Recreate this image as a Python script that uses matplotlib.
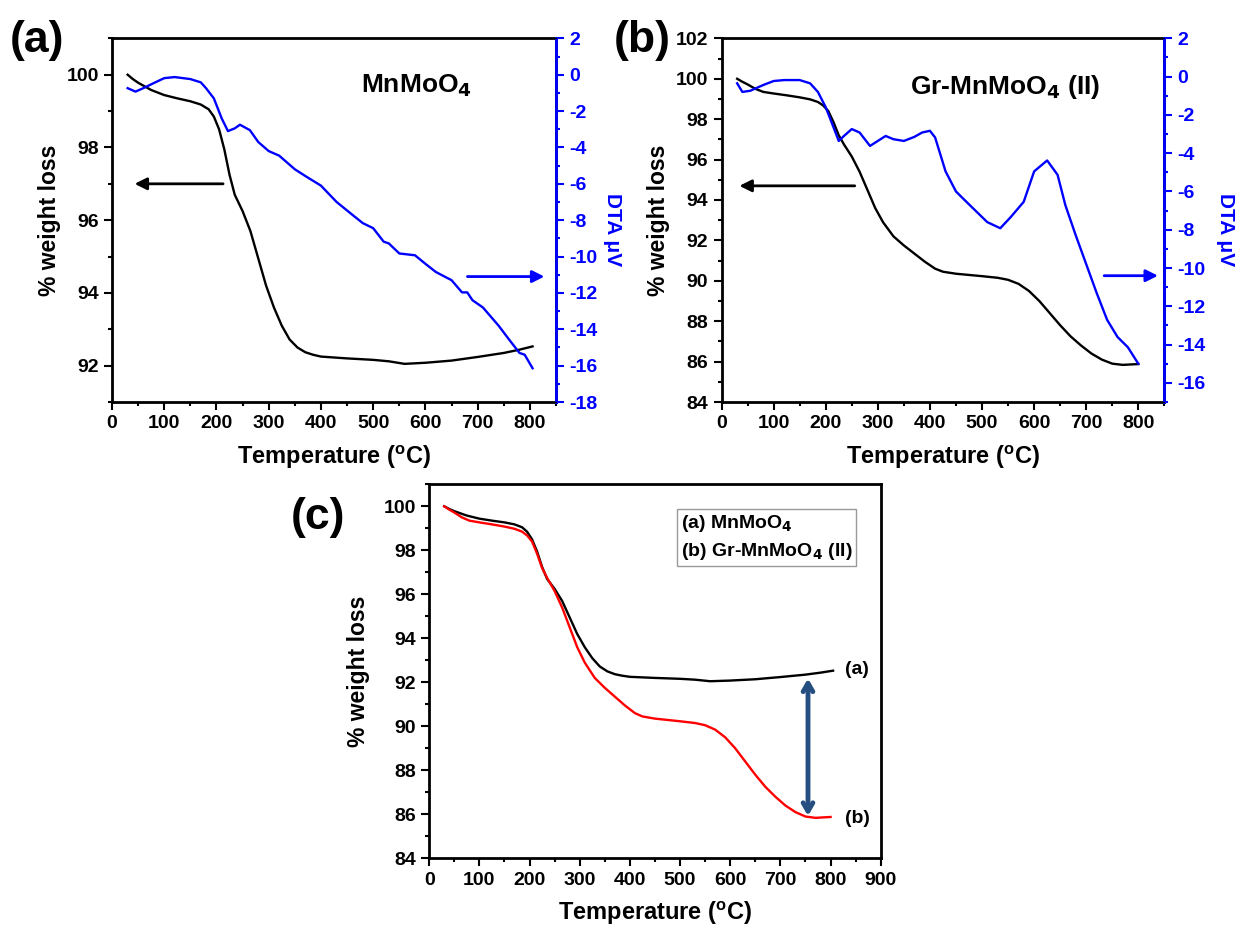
import matplotlib.pyplot as plt
from matplotlib.ticker import MultipleLocator

plt.rcParams['font.family'] = ['Liberation Sans', 'DejaVu Sans']
plt.rcParams['font.weight'] = 'bold'
plt.rcParams['mathtext.default'] = 'bf'
plt.rcParams['axes.unicode_minus'] = False

# TGA of MnMoO4
t_a = [30, 40, 50, 75, 100, 125, 150, 170, 185, 195, 205, 215, 225, 235, 250,
       265, 280, 295, 310, 325, 340, 355, 370, 385, 400, 450, 500, 530, 560,
       600, 650, 700, 750, 780, 805]
w_a = [100.0, 99.88, 99.78, 99.58, 99.44, 99.35, 99.27, 99.18, 99.05, 98.85,
       98.5, 97.95, 97.25, 96.7, 96.25, 95.7, 94.95, 94.2, 93.6, 93.1, 92.72,
       92.5, 92.37, 92.3, 92.25, 92.2, 92.16, 92.12, 92.05, 92.08, 92.14, 92.24,
       92.35, 92.44, 92.53]

# DTA of MnMoO4
td_a = [30, 45, 60, 80, 100, 120, 150, 170, 180, 195, 210, 222, 235, 245, 264,
        280, 300, 320, 350, 370, 400, 430, 460, 480, 500, 520, 530, 550, 580,
        600, 620, 650, 670, 680, 690, 710, 740, 760, 780, 790, 805]
d_a = [-0.74, -0.93, -0.74, -0.46, -0.19, -0.13, -0.24, -0.42, -0.74, -1.3,
       -2.4, -3.1, -2.95, -2.75, -3.05, -3.7, -4.2, -4.45, -5.2, -5.57, -6.1,
       -7.0, -7.7, -8.16, -8.44, -9.18, -9.28, -9.83, -9.93, -10.4, -10.85,
       -11.3, -11.97, -11.97, -12.4, -12.8, -13.8, -14.56, -15.3, -15.4, -16.14]

# TGA of Gr-MnMoO4 (II)
t_b = [30, 40, 50, 65, 80, 100, 125, 150, 170, 185, 195, 205, 215, 225, 235,
       250, 265, 280, 295, 310, 330, 350, 370, 390, 410, 425, 450, 500, 530, 550,
       570, 590, 610, 630, 650, 670, 690, 710, 730, 750, 770, 800]
w_b = [100.0, 99.85, 99.72, 99.5, 99.35, 99.27, 99.18, 99.08, 98.98, 98.85,
       98.68, 98.4, 97.85, 97.2, 96.75, 96.15, 95.4, 94.5, 93.6, 92.9, 92.2,
       91.75, 91.35, 90.95, 90.6, 90.45, 90.35, 90.23, 90.15, 90.05, 89.85, 89.5,
       89.0, 88.4, 87.8, 87.25, 86.8, 86.4, 86.1, 85.9, 85.84, 85.88]

# DTA of Gr-MnMoO4 (II)
td_b = [30, 40, 55, 80, 100, 120, 150, 170, 185, 200, 215, 225, 235, 250, 265,
        285, 300, 315, 330, 350, 370, 385, 400, 410, 430, 450, 470, 490, 510,
        535, 555, 580, 600, 625, 645, 660, 680, 700, 720, 740, 760, 780, 800]
d_b = [-0.35, -0.8, -0.74, -0.44, -0.23, -0.18, -0.18, -0.35, -0.8, -1.6,
       -2.65, -3.36, -3.1, -2.74, -2.92, -3.62, -3.36, -3.1, -3.27, -3.36, -3.15,
       -2.92, -2.83, -3.18, -4.95, -6.0, -6.54, -7.07, -7.6, -7.92, -7.34, -6.54,
       -4.95, -4.38, -5.13, -6.72, -8.3, -9.8, -11.3, -12.7, -13.6, -14.14, -15.0]

BLUE = '#0000ff'
tick_fs = 14
xlab_fs = 17
ylab_fs = 16.5

fig = plt.figure(figsize=(12.44, 9.35), dpi=100)


def style(ax, color='black'):
    ax.tick_params(which='both', direction='out', labelsize=tick_fs,
                   width=1.5, colors=color)
    ax.tick_params(which='major', length=6)
    ax.tick_params(which='minor', length=3)
    for lab in ax.get_xticklabels() + ax.get_yticklabels():
        lab.set_fontweight('bold')


def tga_dta(rect, t, w, td, d, ylim, yticks, dlim, title, tx, arrL, arrR, dlabx):
    ax = fig.add_axes(rect)
    ax.plot(t, w, color='black', lw=1.7)
    ax.set_xlim(0, 850)
    ax.set_ylim(*ylim)
    ax.set_xticks(range(0, 801, 100))
    ax.set_yticks(yticks)
    ax.xaxis.set_minor_locator(MultipleLocator(50))
    ax.yaxis.set_minor_locator(MultipleLocator(1))
    ax.set_xlabel('Temperature ($\\mathregular{^o}$C)', fontsize=xlab_fs,
                  fontweight='bold', labelpad=8)
    ax.set_ylabel('% weight loss', fontsize=ylab_fs, fontweight='bold')
    for s in ax.spines.values():
        s.set_linewidth(2)
    ax.tick_params(top=False, right=False)
    style(ax)
    ax.annotate('', xy=(arrL[0], arrL[2]), xytext=(arrL[1], arrL[2]),
                arrowprops=dict(arrowstyle='-|>', color='black', lw=2,
                                mutation_scale=18))
    ax.text(tx[0], tx[1], title, fontsize=19, fontweight='bold',
            ha='center', va='center', transform=ax.transAxes)

    ax2 = ax.twinx()
    ax2.plot(td, d, color=BLUE, lw=1.7)
    ax2.set_ylim(*dlim)
    ax2.set_yticks(range(dlim[0] if dlim[0] % 2 == 0 else dlim[0] + 1, 3, 2))
    ax2.yaxis.set_minor_locator(MultipleLocator(1))
    ax2.spines['right'].set_color(BLUE)
    ax2.spines['right'].set_linewidth(2)
    ax2.tick_params(axis='y', which='both', direction='out', colors=BLUE,
                    labelsize=tick_fs, width=1.5)
    ax2.tick_params(axis='y', which='major', length=6)
    ax2.tick_params(axis='y', which='minor', length=3)
    for lab in ax2.get_yticklabels():
        lab.set_fontweight('bold')
    ax2.annotate('', xy=(arrR[1], arrR[2]), xytext=(arrR[0], arrR[2]),
                 arrowprops=dict(arrowstyle='-|>', color=BLUE, lw=2,
                                 mutation_scale=18))
    fig.text(dlabx, 0.754, 'DTA μV', color=BLUE, fontsize=15,
             fontweight='bold', rotation=270, ha='center', va='center')
    return ax


# panel (a)
tga_dta([0.090, 0.570, 0.357, 0.389], t_a, w_a, td_a, d_a,
        (91, 101), range(92, 101, 2), (-18, 2), 'MnMoO$_4$', (0.685, 0.87),
        (38, 218, 97.0), (675, 833, -11.1), 0.492)

# panel (b)
tga_dta([0.580, 0.570, 0.356, 0.389], t_b, w_b, td_b, d_b,
        (84, 102), range(84, 103, 2), (-17, 2), 'Gr-MnMoO$_4$ (II)', (0.64, 0.865),
        (29, 261, 94.7), (729, 843, -10.4), 0.985)

# panel (c)
axc = fig.add_axes([0.345, 0.082, 0.363, 0.400])
axc.plot(t_a, w_a, color='black', lw=1.7)
axc.plot(t_b, w_b, color='red', lw=1.7)
axc.set_xlim(0, 900)
axc.set_ylim(84, 101)
axc.set_xticks(range(0, 901, 100))
axc.set_yticks(range(84, 101, 2))
axc.xaxis.set_minor_locator(MultipleLocator(50))
axc.yaxis.set_minor_locator(MultipleLocator(1))
for s in axc.spines.values():
    s.set_linewidth(2)
style(axc)
axc.set_xlabel('Temperature ($\\mathregular{^o}$C)', fontsize=xlab_fs,
               fontweight='bold', labelpad=8)
axc.set_ylabel('% weight loss', fontsize=ylab_fs, fontweight='bold', labelpad=10)
axc.annotate('', xy=(755, 92.3), xytext=(755, 85.8),
             arrowprops=dict(arrowstyle='<->,head_length=0.6,head_width=0.35',
                             color='#254f80', lw=3.5))
axc.text(828, 92.6, '(a)', fontsize=14, fontweight='bold', va='center')
axc.text(828, 85.8, '(b)', fontsize=14, fontweight='bold', va='center')
axc.text(0.557, 0.858, '(a) MnMoO$_4$\n(b) Gr-MnMoO$_4$ (II)', transform=axc.transAxes,
         fontsize=14, fontweight='bold', va='center', ha='left', linespacing=1.5,
         bbox=dict(boxstyle='square,pad=0.2', fc='white', ec='#999999', lw=1))

# panel labels
fig.text(0.008, 0.957, '(a)', fontsize=32, fontweight='bold', va='center')
fig.text(0.493, 0.957, '(b)', fontsize=32, fontweight='bold', va='center')
fig.text(0.234, 0.447, '(c)', fontsize=32, fontweight='bold', va='center')

fig.savefig('out.png', dpi=100)
